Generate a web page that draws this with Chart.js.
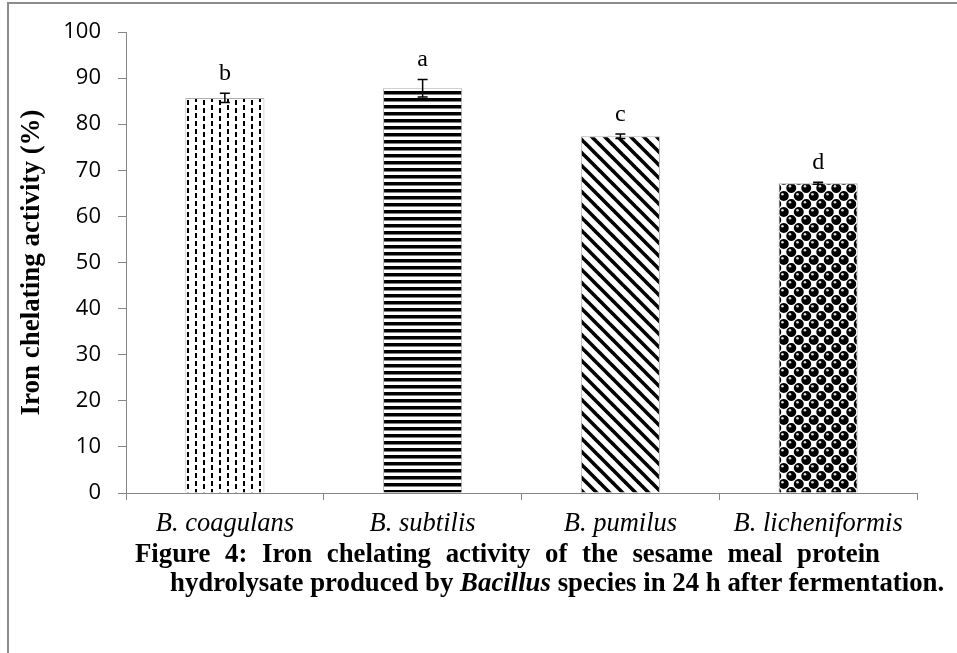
<!DOCTYPE html>
<html>
<head>
<meta charset="utf-8">
<script src="https://cdn.jsdelivr.net/npm/chart.js@4"></script>
<style>
  html, body { margin: 0; padding: 0; background: #fff; }
  #wrap { position: relative; width: 957px; height: 653px; overflow: hidden; }
  #frame { position: absolute; left: 7px; top: 2px; width: 960px; height: 700px;
           border-left: 2px solid #8c8c8c; border-top: 2px solid #8c8c8c; }
  canvas { position: absolute; left: 0; top: 0; }
  .cap { position: absolute; font-family: "Liberation Serif", "Times New Roman", serif;
         font-weight: bold; font-size: 26.8px; line-height: 30px; color: #000; white-space: nowrap; }
  #cap1 { left: 135px; top: 538px; width: 745px; text-align: justify; text-align-last: justify; white-space: normal; }
  #cap2 { left: 170px; top: 567px; }
</style>
</head>
<body>
<div id="wrap">
  <div id="frame"></div>
  <canvas id="c" width="957" height="653"></canvas>
  <div class="cap" id="cap1">Figure 4: Iron chelating activity of the sesame meal protein</div>
  <div class="cap" id="cap2">hydrolysate produced by <i>Bacillus</i> species in 24 h after fermentation.</div>
</div>
<script>
// ---- data ----
const categories = ["B. coagulans", "B. subtilis", "B. pumilus", "B. licheniformis"];
const activity = [85.7, 87.8, 77.4, 67.2];
const errors = [1.0, 1.9, 0.5, 0.2];
const letters = ["b", "a", "c", "d"];
const yTicks = [0, 10, 20, 30, 40, 50, 60, 70, 80, 90, 100];

// ---- patterns ----
function makeTile(w, h, draw) {
  const c = document.createElement("canvas");
  c.width = w; c.height = h;
  const g = c.getContext("2d");
  g.fillStyle = "#fff"; g.fillRect(0, 0, w, h);
  draw(g);
  return document.getElementById("c").getContext("2d").createPattern(c, "repeat");
}
const pDashV = makeTile(16, 16, g => {
  g.fillStyle = "#000";
  g.fillRect(3, 1, 2, 5); g.fillRect(3, 9, 2, 5);
  g.fillRect(11, 4, 2, 5); g.fillRect(11, 12, 2, 4); g.fillRect(11, 0, 2, 1);
});
const pHoriz = makeTile(8, 7, g => {
  g.fillStyle = "#000"; g.fillRect(0, 0, 8, 3.5);
});
const pDiag = makeTile(13, 13, g => {
  g.strokeStyle = "#000"; g.lineWidth = 3.6;
  for (let k = -1; k <= 1; k++) {
    g.beginPath(); g.moveTo(k * 13 - 2, -2); g.lineTo(k * 13 + 15, 15); g.stroke();
  }
});
const pSphere = makeTile(15, 16, g => {
  const pts = [];
  for (let i = -1; i <= 2; i++) for (let j = -1; j <= 2; j++) {
    pts.push([3.75 + i * 15, 4 + j * 16]);
    pts.push([11.25 + i * 15, 12 + j * 16]);
  }
  pts.forEach(([x, y]) => {
    g.fillStyle = "#000"; g.beginPath(); g.arc(x, y, 5, 0, Math.PI * 2); g.fill();
    g.fillStyle = "#d8d8d8"; g.beginPath(); g.arc(x - 1.3, y - 1.8, 1.3, 0, Math.PI * 2); g.fill();
  });
});

// ---- plugins ----
const errLetters = {
  id: "errLetters",
  afterDatasetsDraw(chart) {
    const ctx = chart.ctx;
    const meta = chart.getDatasetMeta(0);
    const y = chart.scales.y;
    ctx.save();
    meta.data.forEach((bar, i) => {
      const x = bar.x;
      const top = y.getPixelForValue(activity[i] + errors[i]);
      const bot = y.getPixelForValue(activity[i] - errors[i]);
      ctx.strokeStyle = "#000"; ctx.lineWidth = 1.5;
      ctx.beginPath();
      ctx.moveTo(x, top); ctx.lineTo(x, bot);
      ctx.moveTo(x - 5, top); ctx.lineTo(x + 5, top);
      ctx.moveTo(x - 5, bot); ctx.lineTo(x + 5, bot);
      ctx.stroke();
      ctx.fillStyle = "#000";
      ctx.font = '24px "Liberation Serif", serif';
      ctx.textAlign = "center"; ctx.textBaseline = "alphabetic";
      ctx.fillText(letters[i], x, top - 13);
    });
    ctx.restore();
  }
};

new Chart(document.getElementById("c"), {
  type: "bar",
  data: {
    labels: categories,
    datasets: [{
      data: activity,
      backgroundColor: [pDashV, pHoriz, pDiag, pSphere],
      borderColor: "#b0b0b0",
      borderWidth: 1,
      categoryPercentage: 0.4,
      barPercentage: 1.0
    }]
  },
  options: {
    responsive: false,
    animation: false,
    layout: { padding: { left: 12, top: 32, right: 40, bottom: 95 } },
    plugins: { legend: { display: false }, tooltip: { enabled: false } },
    scales: {
      y: {
        min: 0, max: 100,
        afterBuildTicks: s => { s.ticks = yTicks.map(v => ({ value: v })); },
        afterFit: s => { s.width = 114; },
        border: { color: "#868686", width: 1 },
        grid: { drawOnChartArea: false, tickLength: 8, color: "#868686" },
        ticks: { padding: 17, color: "#000", font: { family: '"Open Sans", sans-serif', size: 22 } },
        title: {
          display: true, text: "Iron chelating activity (%)", color: "#000",
          padding: { top: 4, bottom: 0 },
          font: { family: '"Liberation Serif", serif', weight: "bold", size: 27 }
        }
      },
      x: {
        afterFit: s => { s.height = 65; },
        border: { color: "#868686", width: 1 },
        grid: { drawOnChartArea: false, tickLength: 7, color: "#868686", offset: true },
        ticks: { padding: 8, color: "#000", font: { family: '"Liberation Serif", serif', style: "italic", size: 26.5 } }
      }
    }
  },
  plugins: [errLetters]
});
</script>
</body>
</html>
